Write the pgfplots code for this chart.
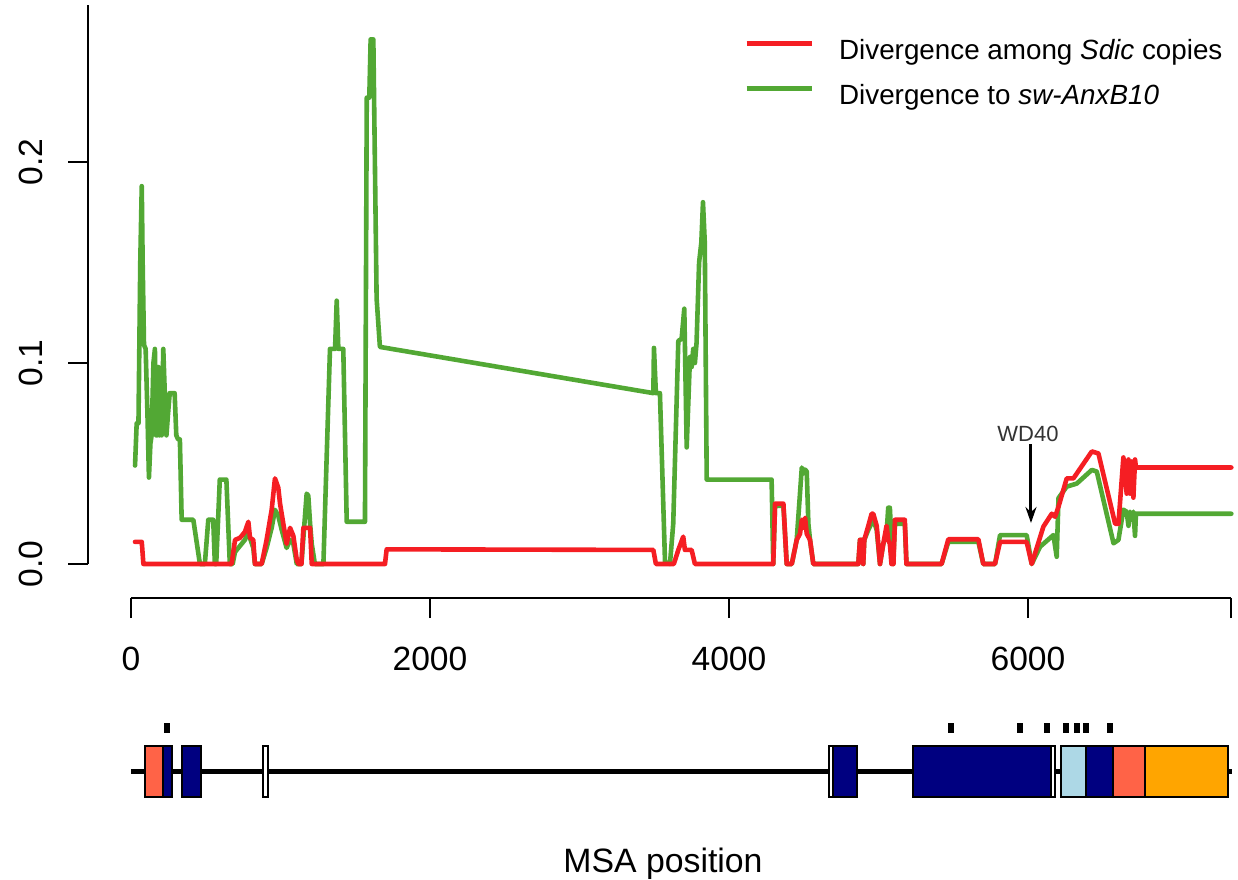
\documentclass[border=0pt]{standalone}
\usepackage{fontspec}
\setmainfont{Liberation Sans}
\usepackage{pgfplots}
\pgfplotsset{compat=1.18}
\usetikzlibrary{arrows.meta}
\definecolor{cred}{RGB}{245,30,35}
\definecolor{cgreen}{RGB}{82,168,52}
\definecolor{ctomato}{RGB}{255,99,71}
\definecolor{cnavy}{RGB}{0,0,128}
\definecolor{clblue}{RGB}{173,216,230}
\definecolor{corange}{RGB}{255,165,0}
\begin{document}
\begin{tikzpicture}
\useasboundingbox (0,0) rectangle (619pt,439.5pt);
\begin{axis}[
  at={(44pt,140.5pt)}, anchor=south west,
  scale only axis, width=575pt, height=299pt,
  xmin=-287.6, xmax=7404.7, ymin=-0.016915, ymax=0.280597,
  axis lines*=left, axis line style={draw=none},
  clip=false,
  xtick={0,2000,4000,6000,7360}, xticklabels={0,2000,4000,6000,{}},
  ytick={0,0.1,0.2}, yticklabels={0.0,0.1,0.2},
  tick align=outside, major tick length=10pt,
  tick style={line width=1pt, black},
  ticklabel style={font=\fontsize{16.8}{20}\selectfont, inner sep=0pt},
  yticklabel style={rotate=90, anchor=south},
  xticklabel style={anchor=north},
  xticklabel shift=14.5pt, yticklabel shift=12.5pt,
  /pgf/number format/assume math mode=true,
  legend style={at={(axis cs:4100,0.2612)}, anchor=north west, draw=none, fill=none,
    inner sep=0pt, outer sep=0pt, row sep=11pt, font=\fontsize{13.9}{16}\selectfont,
    nodes={inner sep=0pt}},
  legend cell align=left,
  legend image code/.code={\draw[#1] (0pt,3.5pt) -- (32.5pt,3.5pt); \path (45pt,3.5pt);},
]
\addlegendimage{cred, line width=2.6pt}
\addlegendentry{Divergence among \textit{Sdic} copies}
\addlegendimage{cgreen, line width=2.6pt}
\addlegendentry{Divergence to \textit{sw-AnxB10}}

\addplot[forget plot, cgreen, line width=2.3pt, line join=round, line cap=round] coordinates {
(27,0.049) (38,0.070) (50,0.070) (62,0.150) (72,0.188) (78,0.150) (87,0.109) (98,0.107)
(110,0.075) (120,0.043) (130,0.060) (138,0.064) (150,0.100) (160,0.107) (168,0.064) (176,0.064)
(183,0.098) (190,0.064) (198,0.085) (205,0.064) (216,0.107) (226,0.085) (237,0.064) (248,0.075)
(259,0.085) (280,0.085) (292,0.085) (303,0.064) (315,0.062) (327,0.062) (339,0.022) (417,0.022)
(461,0.000) (494,0.000) (517,0.022) (550,0.022) (561,0.000) (570,0.000) (594,0.042) (638,0.042)
(661,0.000) (680,0.000) (696,0.006) (729,0.009) (762,0.012) (785,0.016) (800,0.012) (818,0.008)
(829,0.000) (874,0.000) (907,0.008) (941,0.018) (963,0.027) (985,0.024) (1008,0.017) (1041,0.008)
(1064,0.012) (1086,0.010) (1109,0.000) (1140,0.000) (1160,0.020) (1175,0.035) (1186,0.034)
(1198,0.020) (1209,0.010) (1230,0.000) (1287,0.000) (1331,0.107) (1365,0.107) (1376,0.131)
(1387,0.107) (1420,0.107) (1443,0.021) (1565,0.021) (1577,0.232) (1594,0.232) (1603,0.261)
(1621,0.261) (1643,0.132) (1665,0.108) (3494,0.085) (3498,0.1075) (3511,0.085) (3538,0.085)
(3572,0.001) (3605,0.000) (3616,0.010) (3627,0.020) (3661,0.111) (3683,0.112) (3701,0.127)
(3717,0.058) (3739,0.103) (3750,0.098) (3761,0.107) (3772,0.100) (3783,0.110) (3800,0.150)
(3815,0.160) (3826,0.180) (3838,0.160) (3851,0.042) (4285,0.042) (4296,0.000) (4308,0.029)
(4364,0.029) (4386,0.000) (4420,0.000) (4453,0.012) (4470,0.030) (4487,0.048) (4498,0.045)
(4509,0.047) (4520,0.046) (4531,0.020) (4542,0.012) (4564,0.000) (4865,0.000) (4876,0.012)
(4892,0.012) (4898,0.000) (4905,0.012) (4932,0.017) (4965,0.022) (4988,0.017) (5010,0.000)
(5032,0.010) (5054,0.015) (5065,0.028) (5076,0.028) (5087,0.012) (5098,0.000) (5110,0.020)
(5176,0.020) (5187,0.000) (5422,0.000) (5467,0.011) (5668,0.011) (5701,0.000) (5780,0.000)
(5813,0.0144) (5991,0.0144) (6025,0.000) (6081,0.0086) (6170,0.0144) (6192,0.0036) (6204,0.0328)
(6259,0.0385) (6326,0.040) (6427,0.0468) (6460,0.046) (6572,0.0103) (6605,0.012) (6638,0.027)
(6660,0.026) (6672,0.019) (6683,0.026) (6694,0.022) (6705,0.026) (6716,0.014) (6722,0.025)
(7360,0.025)};

\addplot[forget plot, cred, line width=2.3pt, line join=round, line cap=round] coordinates {
(27,0.011) (72,0.011) (83,0.000) (673,0.000) (696,0.012) (729,0.013) (762,0.016) (785,0.021)
(796,0.013) (818,0.012) (829,0.000) (874,0.000) (907,0.012) (941,0.027) (963,0.0426) (985,0.038)
(997,0.030) (1008,0.025) (1041,0.010) (1064,0.018) (1086,0.014) (1109,0.002) (1120,0.000)
(1140,0.000) (1153,0.018) (1198,0.018) (1209,0.000) (1699,0.000) (1710,0.0073) (3494,0.007)
(3511,0.000) (3631,0.000) (3661,0.007) (3694,0.0136) (3705,0.007) (3750,0.007) (3772,0.000)
(4296,0.000) (4308,0.030) (4364,0.030) (4386,0.000) (4420,0.000) (4453,0.012) (4475,0.015)
(4487,0.022) (4498,0.018) (4509,0.023) (4520,0.015) (4542,0.012) (4564,0.000) (4865,0.000)
(4876,0.012) (4892,0.012) (4898,0.000) (4905,0.012) (4932,0.019) (4954,0.025) (4965,0.025)
(4988,0.019) (5010,0.000) (5032,0.010) (5054,0.019) (5065,0.012) (5076,0.010) (5087,0.000)
(5100,0.000) (5110,0.022) (5176,0.022) (5187,0.000) (5422,0.000) (5467,0.0123) (5668,0.0123)
(5701,0.000) (5779,0.000) (5813,0.011) (5991,0.011) (6025,0.000) (6103,0.0186) (6159,0.025)
(6181,0.0235) (6204,0.0285) (6259,0.0426) (6304,0.0426) (6427,0.056) (6471,0.055) (6583,0.020)
(6605,0.020) (6638,0.053) (6650,0.045) (6660,0.035) (6672,0.052) (6683,0.035) (6694,0.051)
(6705,0.033) (6716,0.052) (6722,0.048) (7360,0.048)};

\draw[line width=1pt] (axis cs:0,-0.016915) -- (axis cs:7360,-0.016915);
\draw[line width=1pt] (axis cs:-287.6,0) -- (axis cs:-287.6,0.278);
\draw[-{Stealth[length=8pt,width=5.5pt]}, line width=1.5pt] (axis cs:6020,0.0595) -- (axis cs:6020,0.0204);
\node[anchor=south, font=\fontsize{11}{13}\selectfont, text=black!80, inner sep=0pt] at (axis cs:6000,0.0605) {WD40};
\end{axis}

\begin{axis}[
  at={(44pt,19.5pt)}, anchor=south west,
  scale only axis, width=575pt, height=70pt,
  xmin=-287.6, xmax=7404.7, ymin=-840, ymax=-700,
  hide axis, clip=false]
\addplot[black, line width=2.5pt] coordinates {(0,-771) (7363,-771)};
\addplot[fill=ctomato, draw=black, line width=1pt] coordinates {(95,-797) (215,-797) (215,-746) (95,-746)} -- cycle;
\addplot[fill=cnavy, draw=black, line width=1pt] coordinates {(215,-797) (274,-797) (274,-746) (215,-746)} -- cycle;
\addplot[fill=cnavy, draw=black, line width=1pt] coordinates {(338,-797) (471,-797) (471,-746) (338,-746)} -- cycle;
\addplot[fill=white, draw=black, line width=1pt] coordinates {(886,-797) (919,-797) (919,-746) (886,-746)} -- cycle;
\addplot[fill=white, draw=black, line width=1pt] coordinates {(4671,-797) (4693,-797) (4693,-746) (4671,-746)} -- cycle;
\addplot[fill=cnavy, draw=black, line width=1pt] coordinates {(4693,-797) (4854,-797) (4854,-746) (4693,-746)} -- cycle;
\addplot[fill=cnavy, draw=black, line width=1pt] coordinates {(5228,-797) (6151,-797) (6151,-746) (5228,-746)} -- cycle;
\addplot[fill=white, draw=black, line width=1pt] coordinates {(6151,-797) (6181,-797) (6181,-746) (6151,-746)} -- cycle;
\addplot[fill=clblue, draw=black, line width=1pt] coordinates {(6221,-797) (6388,-797) (6388,-746) (6221,-746)} -- cycle;
\addplot[fill=cnavy, draw=black, line width=1pt] coordinates {(6388,-797) (6571,-797) (6571,-746) (6388,-746)} -- cycle;
\addplot[fill=ctomato, draw=black, line width=1pt] coordinates {(6571,-797) (6783,-797) (6783,-746) (6571,-746)} -- cycle;
\addplot[fill=corange, draw=black, line width=1pt] coordinates {(6783,-797) (7340,-797) (7340,-746) (6783,-746)} -- cycle;
% markers above
\addplot[fill=black, draw=none] coordinates {(218,-733) (258,-733) (258,-723) (218,-723)} -- cycle;
\addplot[fill=black, draw=none] coordinates {(5467,-733) (5507,-733) (5507,-723) (5467,-723)} -- cycle;
\addplot[fill=black, draw=none] coordinates {(5924,-733) (5964,-733) (5964,-723) (5924,-723)} -- cycle;
\addplot[fill=black, draw=none] coordinates {(6107,-733) (6147,-733) (6147,-723) (6107,-723)} -- cycle;
\addplot[fill=black, draw=none] coordinates {(6234,-733) (6274,-733) (6274,-723) (6234,-723)} -- cycle;
\addplot[fill=black, draw=none] coordinates {(6308,-733) (6348,-733) (6348,-723) (6308,-723)} -- cycle;
\addplot[fill=black, draw=none] coordinates {(6366,-733) (6406,-733) (6406,-723) (6366,-723)} -- cycle;
\addplot[fill=black, draw=none] coordinates {(6528,-733) (6568,-733) (6568,-723) (6528,-723)} -- cycle;
\end{axis}
\node[anchor=base, font=\fontsize{16.9}{20}\selectfont, inner sep=0pt] at (331.5pt,3pt) {MSA position};
\end{tikzpicture}
\end{document}
